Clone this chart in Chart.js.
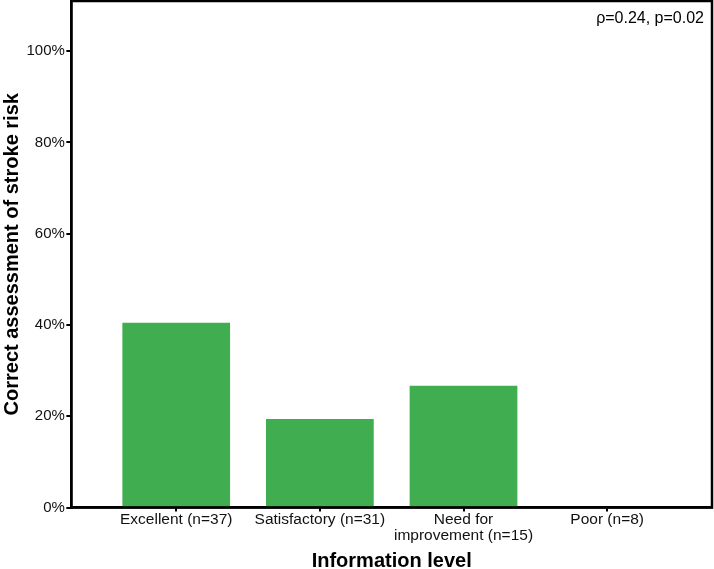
<!DOCTYPE html>
<html>
<head>
<meta charset="utf-8">
<script src="https://cdn.jsdelivr.net/npm/chart.js@4"></script>
<style>
  body { margin: 0; background: #fff; }
</style>
</head>
<body>
<canvas id="chart" width="714" height="569"></canvas>
<script>
// data
const categories = ['Excellent (n=37)', 'Satisfactory (n=31)', ['Need for', 'improvement (n=15)'], 'Poor (n=8)'];
const positions = [1, 2, 3, 4];
const correctPct = [40.5, 19.4, 26.7, 0];
const yTicks = [0, 20, 40, 60, 80, 100];
const annotation = 'ρ=0.24, p=0.02';

const FONT = "'Liberation Sans', Arial, sans-serif";

// frame around the plot + the correlation text
const framePlugin = {
    id: 'frame',
    afterDraw(chart) {
        const { ctx, chartArea: a } = chart;
        ctx.save();
        ctx.strokeStyle = '#000';
        ctx.lineWidth = 2.5;
        ctx.strokeRect(a.left, a.top, a.right - a.left, a.bottom - a.top);
        ctx.fillStyle = '#000';
        ctx.font = '16px ' + FONT;
        ctx.textAlign = 'right';
        ctx.textBaseline = 'middle';
        ctx.fillText(annotation, a.right - 8, a.top + 18);
        ctx.restore();
    }
};

new Chart(document.getElementById('chart'), {
    type: 'bar',
    data: {
        datasets: [{
            data: positions.map((x, i) => ({ x: x, y: correctPct[i] })),
            backgroundColor: '#40ae50',
            borderWidth: 0,
            barPercentage: 0.75,
            categoryPercentage: 1
        }]
    },
    options: {
        responsive: false,
        animation: false,
        layout: { padding: { top: 1, right: 2, left: 0, bottom: 0 } },
        plugins: { legend: { display: false }, tooltip: { enabled: false } },
        scales: {
            x: {
                type: 'linear',
                offset: false,
                min: 0.27,
                max: 4.73,
                afterBuildTicks: s => { s.ticks = positions.map(v => ({ value: v })); },
                afterFit: s => { s.paddingLeft = 0; s.paddingRight = 0; },
                grid: { drawOnChartArea: false, drawTicks: true, offset: false, tickLength: 4, color: '#000', lineWidth: 2 },
                border: { display: true, color: '#000', width: 2.5 },
                ticks: {
                    color: '#111',
                    font: { family: FONT, size: 15.5, lineHeight: 1.03 },
                    padding: 0,
                    maxRotation: 0,
                    autoSkip: false,
                    callback: v => categories[positions.indexOf(v)] || ''
                },
                title: {
                    display: true,
                    text: 'Information level',
                    color: '#000',
                    font: { family: FONT, size: 20, weight: 'bold', lineHeight: 1 },
                    padding: { top: 7.5, bottom: -2 }
                }
            },
            y: {
                min: 0,
                max: 111,
                afterBuildTicks: s => { s.ticks = yTicks.map(v => ({ value: v })); },
                afterFit: s => { s.paddingTop = 0; s.paddingBottom = 0; },
                grid: { drawOnChartArea: false, drawTicks: true, tickLength: 5, color: '#000', lineWidth: 2 },
                border: { display: true, color: '#000', width: 2.5 },
                ticks: {
                    color: '#111',
                    font: { family: FONT, size: 15 },
                    padding: 1.5,
                    callback: v => v + '%'
                },
                title: {
                    display: true,
                    text: 'Correct assessment of stroke risk',
                    color: '#000',
                    font: { family: FONT, size: 20, weight: 'bold', lineHeight: 1.2 },
                    padding: { top: 0, bottom: 1 }
                }
            }
        }
    },
    plugins: [framePlugin]
});
</script>
</body>
</html>
